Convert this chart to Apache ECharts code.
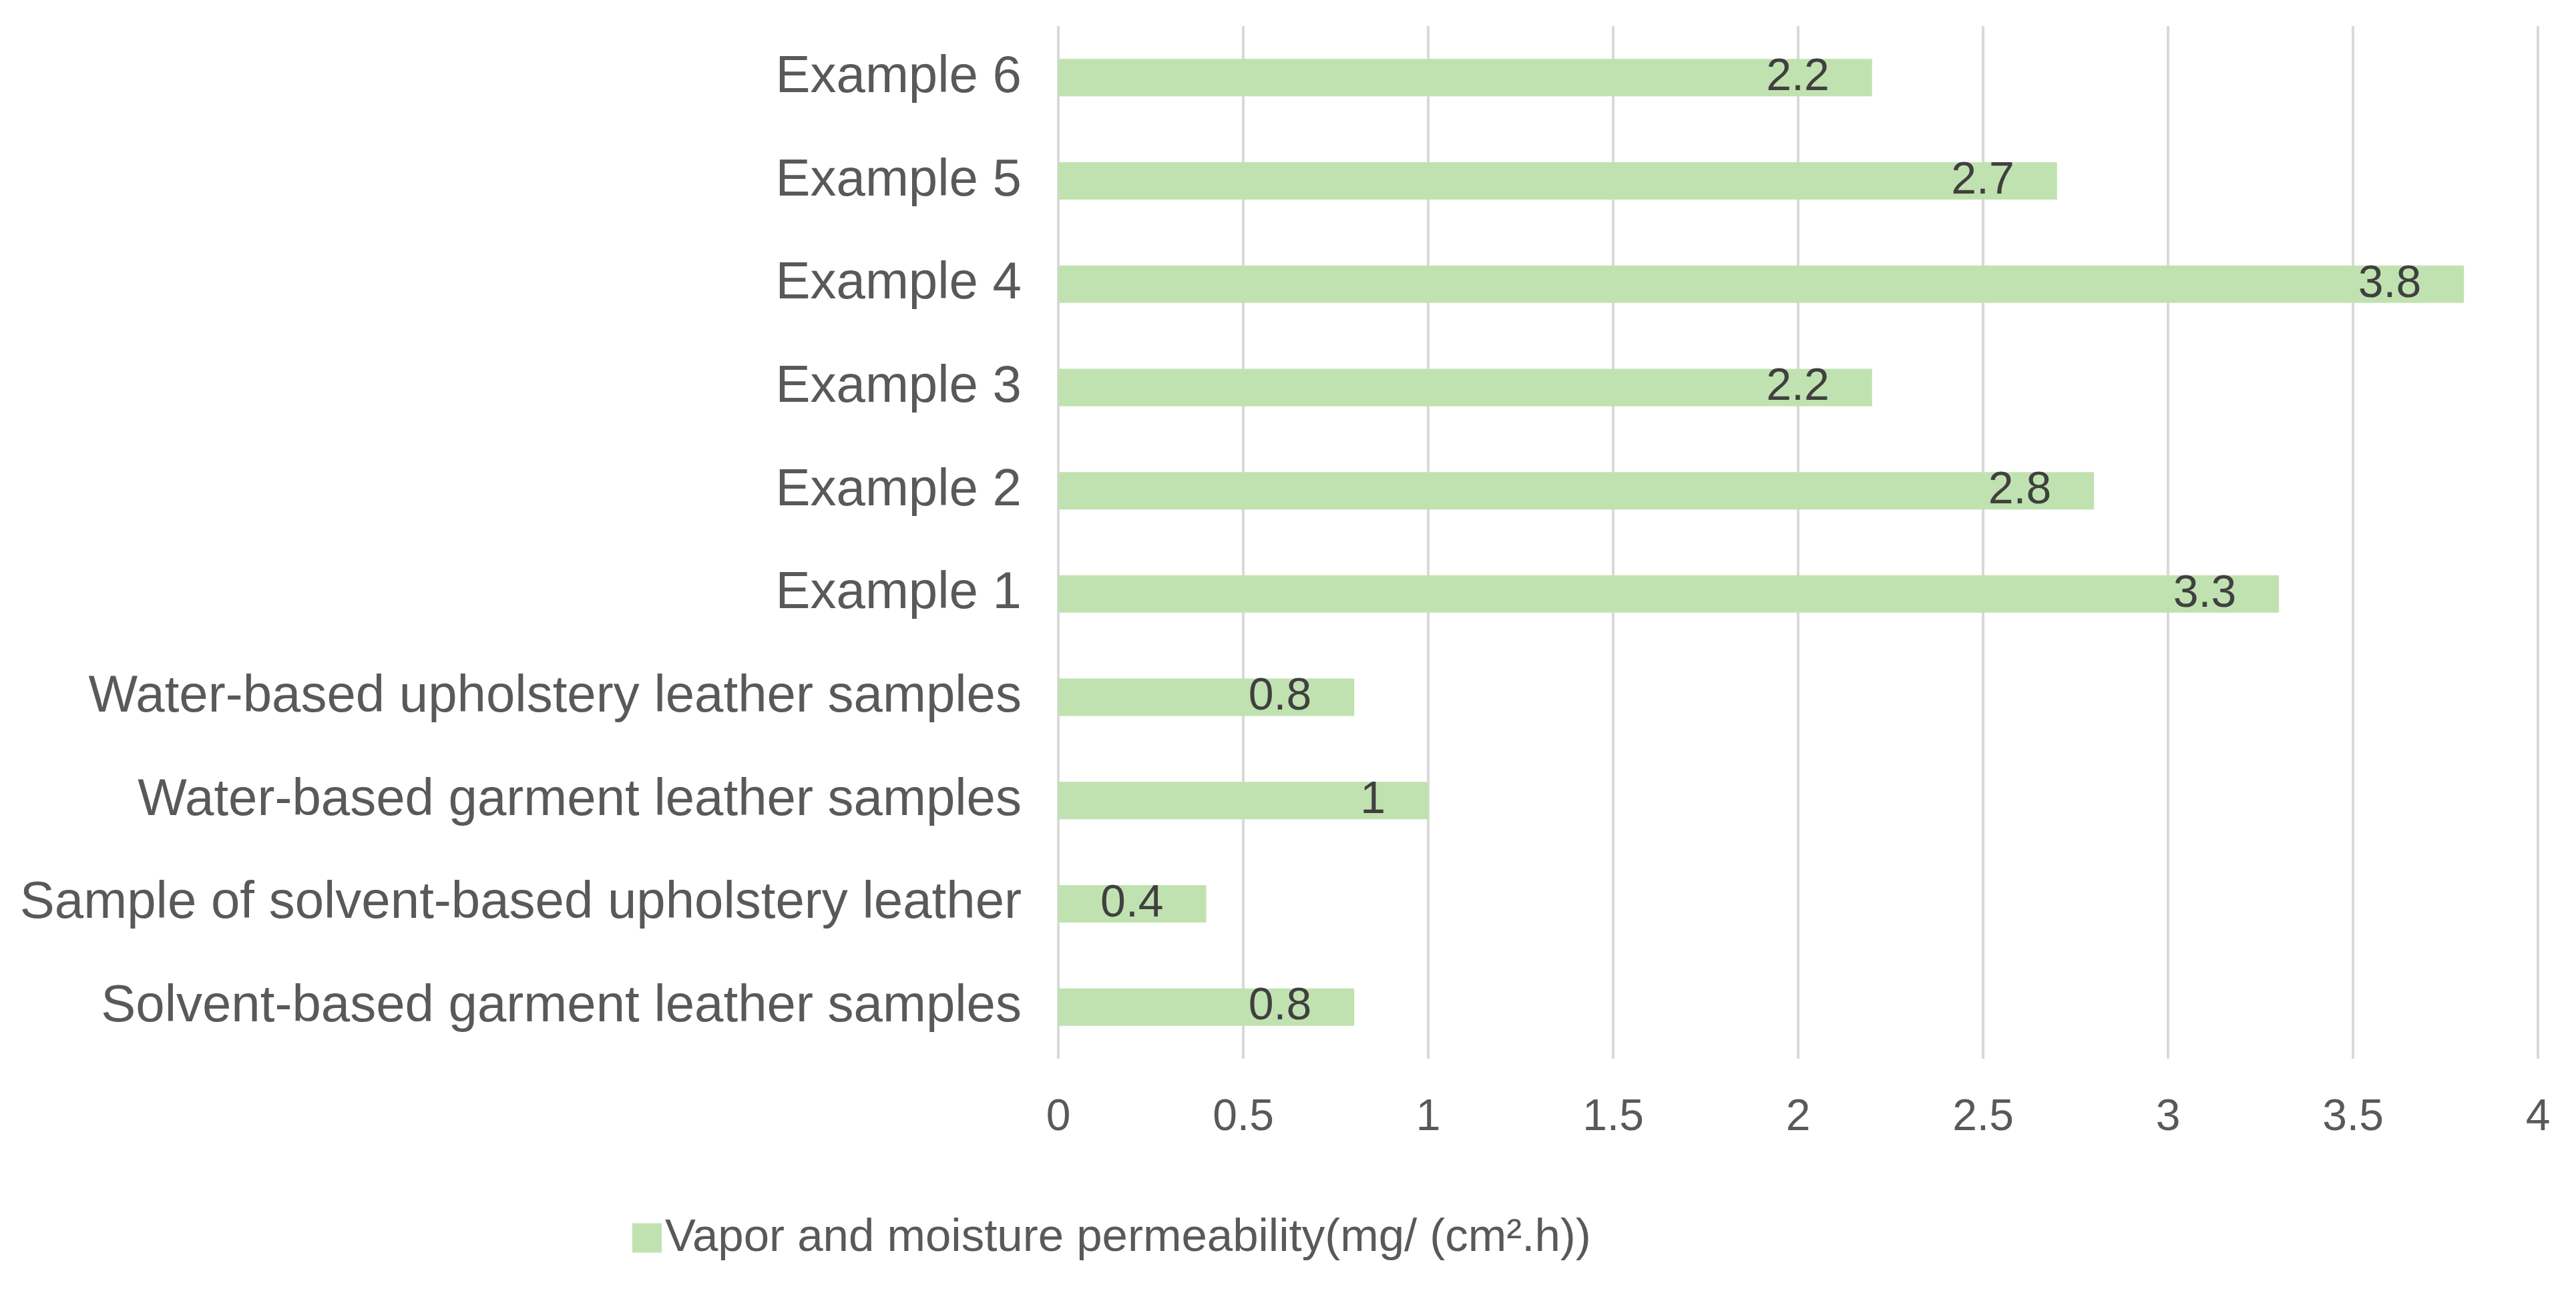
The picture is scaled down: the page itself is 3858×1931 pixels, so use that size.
<!DOCTYPE html>
<html>
<head>
<meta charset="utf-8">
<script src="https://cdn.jsdelivr.net/npm/echarts@6/dist/echarts.min.js"></script>
<style>
  html, body { margin: 0; padding: 0; background: #fff; }
  #chart { width: 3858px; height: 1931px; }
</style>
</head>
<body>
<div id="chart"></div>
<script>
// categories bottom -> top (category axis draws first item at the bottom)
const categories = [
  'Solvent-based garment leather samples',
  'Sample of solvent-based upholstery leather',
  'Water-based garment leather samples',
  'Water-based upholstery leather samples',
  'Example 1',
  'Example 2',
  'Example 3',
  'Example 4',
  'Example 5',
  'Example 6'
]
const permeability = [0.8, 0.4, 1, 0.8, 3.3, 2.8, 2.2, 3.8, 2.7, 2.2]
const seriesName = 'Vapor and moisture permeability(mg/ (cm\u00b2.h))'
const xMin = 0
const xMax = 4
const xStep = 0.5

const chart = echarts.init(document.getElementById('chart'))
const font = '"Liberation Sans", Arial, sans-serif'

chart.setOption({
  animation: false,
  backgroundColor: '#ffffff',
  textStyle: { fontFamily: font },
  legend: {
    data: [seriesName],
    left: 942,
    top: 1815,
    icon: 'rect',
    itemWidth: 44,
    itemHeight: 44,
    textStyle: { fontSize: 69, color: '#595959', fontFamily: font }
  },
  grid: {
    left: 1585,
    right: 57,
    top: 39,
    bottom: 345
  },
  xAxis: {
    type: 'value',
    min: xMin,
    max: xMax,
    interval: xStep,
    axisLine: { show: false },
    axisTick: { show: false },
    axisLabel: { fontSize: 66, color: '#595959', margin: 56, fontFamily: font },
    splitLine: { lineStyle: { color: '#d9d9d9', width: 4 } }
  },
  yAxis: {
    type: 'category',
    data: categories,
    axisLine: { show: false },
    axisTick: { show: false },
    axisLabel: { fontSize: 78, color: '#595959', margin: 55, fontFamily: font }
  },
  series: [{
    name: seriesName,
    type: 'bar',
    data: permeability,
    barWidth: 56,
    itemStyle: { color: '#c0e2b0' },
    label: {
      show: true,
      position: 'insideRight',
      distance: 64,
      fontSize: 68,
      color: '#404040',
      fontFamily: font
    }
  }]
})
</script>
</body>
</html>
